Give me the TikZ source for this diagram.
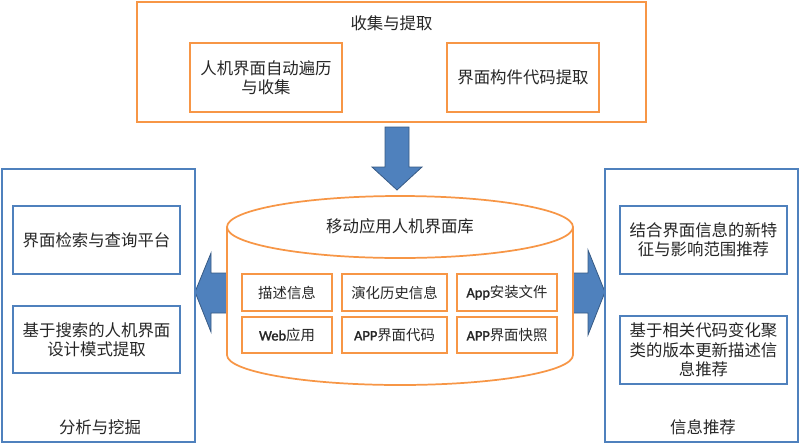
\documentclass[tikz,border=0pt]{standalone}
\usepackage{fontspec}
\setmainfont{Noto Sans CJK SC}
\newfontfamily\latinb{Carlito}[FakeBold=1.5]
\begin{document}
\begin{tikzpicture}[x=0.75pt,y=-0.75pt,
  orbox/.style={draw=orng,line width=1.3pt,fill=white},
  blbox/.style={draw=blu,line width=1.1pt,fill=white},
  big/.style={font=\fontsize{12.3}{14.5}\selectfont,align=center,text=black!85},
  small/.style={font=\fontsize{10.8}{13}\selectfont,align=center,text=black!85},
  blockarrow/.style={fill=blu,draw=blu!70!black,line width=0.6pt}]
\definecolor{orng}{HTML}{F79646}
\definecolor{blu}{HTML}{4F81BD}
\useasboundingbox (0,0) rectangle (800,444);
% top box
\draw[orbox] (137,2) rectangle (646,122);
\node[big] (ttl) at (391.5,23) {收集与提取};
\node[orbox,big,minimum width=152*0.75pt,minimum height=69*0.75pt] (t1) at (266,77.5) {人机界面自动遍历\\与收集};
\node[orbox,big,minimum width=152*0.75pt,minimum height=69*0.75pt] (t2) at (523,77.5) {界面构件代码提取};
% down arrow
\draw[blockarrow] (385,127) -- (409,127) -- (409,167) -- (422,167) -- (397,190) -- (372,167) -- (385,167) -- cycle;
% side arrows
\draw[blockarrow] (195,292) -- (211,253) -- (211,273) -- (232,273) -- (232,313) -- (211,313) -- (211,332) -- cycle;
\draw[blockarrow] (605,292) -- (588,250) -- (588,273) -- (568,273) -- (568,313) -- (588,313) -- (588,335) -- cycle;
% cylinder
\fill[white] (227,227) -- (227,355) arc[start angle=180,end angle=0,x radius=173,y radius=30] -- (573,227) arc[start angle=0,end angle=-180,x radius=173,y radius=31] -- cycle;
\draw[orng,line width=1.3pt] (227,227) -- (227,355) arc[start angle=180,end angle=0,x radius=173,y radius=30] -- (573,227);
\draw[orng,line width=1.3pt] (400,227) ellipse[x radius=173,y radius=31];
\node[big] (db) at (400,226) {移动应用人机界面库};
\node[orbox,small,minimum width=90*0.75pt,minimum height=37*0.75pt] (c11) at (287,292.5) {描述信息};
\node[orbox,small,minimum width=105*0.75pt,minimum height=37*0.75pt] (c12) at (394.5,292.5) {演化历史信息};
\node[orbox,small,minimum width=100*0.75pt,minimum height=37*0.75pt] (c13) at (507,292.5) {{\latinb App}安装文件};
\node[orbox,small,minimum width=90*0.75pt,minimum height=36*0.75pt] (c21) at (287,335) {{\latinb Web}应用};
\node[orbox,small,minimum width=105*0.75pt,minimum height=36*0.75pt] (c22) at (394.5,335) {{\latinb APP}界面代码};
\node[orbox,small,minimum width=100*0.75pt,minimum height=36*0.75pt] (c23) at (507,335) {{\latinb APP}界面快照};
% left panel
\draw[blbox] (2,169) rectangle (195,442);
\node[blbox,big,minimum width=167*0.75pt,minimum height=68*0.75pt] (l1) at (96.5,240) {界面检索与查询平台};
\node[blbox,big,minimum width=167*0.75pt,minimum height=67*0.75pt] (l2) at (96.5,339.5) {基于搜索的人机界面\\设计模式提取};
\node[big] (lt) at (100,427) {分析与挖掘};
% right panel
\draw[blbox] (605,169) rectangle (798,442);
\node[blbox,big,minimum width=167*0.75pt,minimum height=68*0.75pt] (r1) at (703.5,240) {结合界面信息的新特\\征与影响范围推荐};
\node[blbox,big,minimum width=167*0.75pt,minimum height=68*0.75pt] (r2) at (703.5,350) {基于相关代码变化聚\\类的版本更新描述信\\息推荐};
\node[big] (rt) at (703,427) {信息推荐};
\end{tikzpicture}
\end{document}
